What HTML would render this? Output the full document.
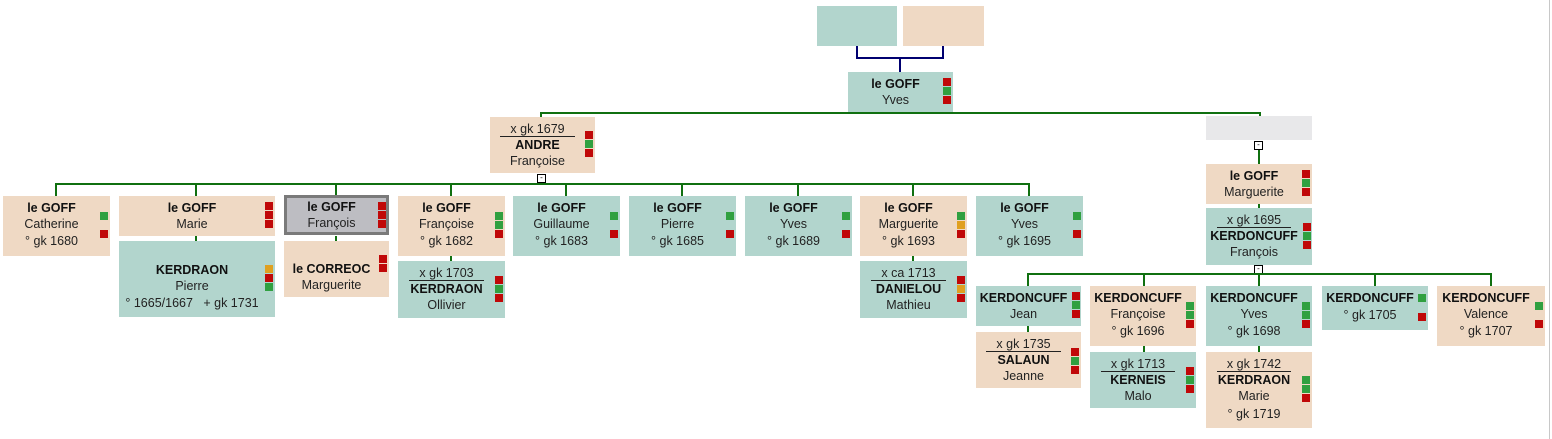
<!DOCTYPE html>
<html><head><meta charset="utf-8"><style>
body{margin:0;width:1552px;height:439px;background:#fff;position:relative;overflow:hidden;font-family:"Liberation Sans",Arial,sans-serif}
.b{position:absolute;font-size:12.5px;text-align:center;line-height:16px;box-sizing:border-box;padding:4px 10px 0 0;color:#222;white-space:nowrap}
.t{background:#b2d5cd}.a{background:#efd9c4}
.b b{font-weight:bold;color:#111}
.s{position:absolute;width:8px;height:8px;right:2px}
.r{background:#c00808}.g{background:#30a040}.y{background:#e0a020}
.m{display:inline-block;border-bottom:1px solid #222;line-height:13px;padding:0 10px}
.l{position:absolute;background:#107010}
.n{position:absolute;background:#000070}
.x{position:absolute;width:7px;height:7px;border:1px solid #000;background:#fff;font-size:8px;line-height:6px;text-align:center}
.d{line-height:19px}
</style></head><body>
<div class="b t" style="left:817px;top:6px;width:80px;height:40px"></div>
<div class="b a" style="left:903px;top:6px;width:81px;height:40px"></div>
<div class="n" style="left:856px;top:46px;width:2px;height:13px"></div>
<div class="n" style="left:942px;top:46px;width:2px;height:13px"></div>
<div class="n" style="left:856px;top:57px;width:88px;height:2px"></div>
<div class="n" style="left:899px;top:57px;width:2px;height:15px"></div>

<div class="b t" style="left:848px;top:72px;width:105px;height:40px"><b>le GOFF</b><br>Yves<div class="s r" style="top:6px"></div><div class="s g" style="top:15px"></div><div class="s r" style="top:24px"></div></div>

<div class="l" style="left:540px;top:112px;width:721px;height:2px"></div>
<div class="l" style="left:540px;top:112px;width:2px;height:5px"></div>

<div class="b a" style="left:490px;top:117px;width:105px;height:56px"><span class="m">x gk 1679</span><br><b>ANDRE</b><br>Françoise<div class="s r" style="top:14px"></div><div class="s g" style="top:23px"></div><div class="s r" style="top:32px"></div></div>
<div class="x" style="left:537px;top:174px">-</div>

<div class="l" style="left:55px;top:183px;width:975px;height:2px"></div>
<div class="l" style="left:55px;top:183px;width:2px;height:13px"></div>
<div class="l" style="left:195px;top:183px;width:2px;height:13px"></div>
<div class="l" style="left:335px;top:183px;width:2px;height:13px"></div>
<div class="l" style="left:450px;top:183px;width:2px;height:13px"></div>
<div class="l" style="left:565px;top:183px;width:2px;height:13px"></div>
<div class="l" style="left:681px;top:183px;width:2px;height:13px"></div>
<div class="l" style="left:797px;top:183px;width:2px;height:13px"></div>
<div class="l" style="left:912px;top:183px;width:2px;height:13px"></div>
<div class="l" style="left:1028px;top:183px;width:2px;height:13px"></div>

<div class="b a" style="left:3px;top:196px;width:107px;height:60px"><b>le GOFF</b><br>Catherine<br><span class="d">° gk 1680</span><div class="s g" style="top:16px"></div><div class="s r" style="top:34px"></div></div>
<div class="b a" style="left:119px;top:196px;width:156px;height:40px"><b>le GOFF</b><br>Marie<div class="s r" style="top:6px"></div><div class="s r" style="top:15px"></div><div class="s r" style="top:24px"></div></div>
<div class="b" style="left:284px;top:195px;width:105px;height:40px;background:#bdbdc2;border:3px solid #7a7a7a;padding-top:1px"><b>le GOFF</b><br>François<div class="s r" style="top:4px;right:0"></div><div class="s r" style="top:13px;right:0"></div><div class="s r" style="top:22px;right:0"></div></div>
<div class="b a" style="left:398px;top:196px;width:107px;height:60px"><b>le GOFF</b><br>Françoise<br><span class="d">° gk 1682</span><div class="s g" style="top:16px"></div><div class="s g" style="top:25px"></div><div class="s r" style="top:34px"></div></div>
<div class="b t" style="left:513px;top:196px;width:107px;height:60px"><b>le GOFF</b><br>Guillaume<br><span class="d">° gk 1683</span><div class="s g" style="top:16px"></div><div class="s r" style="top:34px"></div></div>
<div class="b t" style="left:629px;top:196px;width:107px;height:60px"><b>le GOFF</b><br>Pierre<br><span class="d">° gk 1685</span><div class="s g" style="top:16px"></div><div class="s r" style="top:34px"></div></div>
<div class="b t" style="left:745px;top:196px;width:107px;height:60px"><b>le GOFF</b><br>Yves<br><span class="d">° gk 1689</span><div class="s g" style="top:16px"></div><div class="s r" style="top:34px"></div></div>
<div class="b a" style="left:860px;top:196px;width:107px;height:60px"><b>le GOFF</b><br>Marguerite<br><span class="d">° gk 1693</span><div class="s g" style="top:16px"></div><div class="s y" style="top:25px"></div><div class="s r" style="top:34px"></div></div>
<div class="b t" style="left:976px;top:196px;width:107px;height:60px"><b>le GOFF</b><br>Yves<br><span class="d">° gk 1695</span><div class="s g" style="top:16px"></div><div class="s r" style="top:34px"></div></div>

<div class="l" style="left:195px;top:236px;width:2px;height:5px"></div>
<div class="l" style="left:335px;top:236px;width:2px;height:5px"></div>
<div class="l" style="left:450px;top:256px;width:2px;height:5px"></div>
<div class="l" style="left:912px;top:256px;width:2px;height:5px"></div>

<div class="b t" style="left:119px;top:241px;width:156px;height:76px;padding-top:21px"><b>KERDRAON</b><br>Pierre<br><span class="d">° 1665/1667 &nbsp;&nbsp;+ gk 1731</span><div class="s y" style="top:24px"></div><div class="s r" style="top:33px"></div><div class="s g" style="top:42px"></div></div>
<div class="b a" style="left:284px;top:241px;width:105px;height:56px;padding-top:20px"><b>le CORREOC</b><br>Marguerite<div class="s r" style="top:14px"></div><div class="s r" style="top:23px"></div></div>
<div class="b t" style="left:398px;top:261px;width:107px;height:57px"><span class="m">x gk 1703</span><br><b>KERDRAON</b><br>Ollivier<div class="s r" style="top:15px"></div><div class="s g" style="top:24px"></div><div class="s r" style="top:33px"></div></div>
<div class="b t" style="left:860px;top:261px;width:107px;height:57px"><span class="m">x ca 1713</span><br><b>DANIELOU</b><br>Mathieu<div class="s r" style="top:15px"></div><div class="s y" style="top:24px"></div><div class="s r" style="top:33px"></div></div>

<div class="l" style="left:1259px;top:112px;width:2px;height:5px"></div>
<div class="b" style="left:1206px;top:116px;width:106px;height:24px;background:#e8e8ea"></div>
<div class="x" style="left:1254px;top:141px">-</div>
<div class="l" style="left:1258px;top:150px;width:2px;height:14px"></div>
<div class="b a" style="left:1206px;top:164px;width:106px;height:40px"><b>le GOFF</b><br>Marguerite<div class="s r" style="top:6px"></div><div class="s g" style="top:15px"></div><div class="s r" style="top:24px"></div></div>
<div class="l" style="left:1258px;top:204px;width:2px;height:4px"></div>
<div class="b t" style="left:1206px;top:208px;width:106px;height:57px"><span class="m">x gk 1695</span><br><b>KERDONCUFF</b><br>François<div class="s r" style="top:15px;right:1px"></div><div class="s g" style="top:24px;right:1px"></div><div class="s r" style="top:33px;right:1px"></div></div>
<div class="x" style="left:1254px;top:265px">-</div>

<div class="l" style="left:1027px;top:273px;width:465px;height:2px"></div>
<div class="l" style="left:1027px;top:273px;width:2px;height:13px"></div>
<div class="l" style="left:1143px;top:273px;width:2px;height:13px"></div>
<div class="l" style="left:1258px;top:273px;width:2px;height:13px"></div>
<div class="l" style="left:1374px;top:273px;width:2px;height:13px"></div>
<div class="l" style="left:1490px;top:273px;width:2px;height:13px"></div>

<div class="b t" style="left:976px;top:286px;width:105px;height:40px"><b>KERDONCUFF</b><br>Jean<div class="s r" style="top:6px;right:1px"></div><div class="s g" style="top:15px;right:1px"></div><div class="s r" style="top:24px;right:1px"></div></div>
<div class="b a" style="left:1090px;top:286px;width:106px;height:60px"><b>KERDONCUFF</b><br>Françoise<br><span class="d">° gk 1696</span><div class="s g" style="top:16px"></div><div class="s g" style="top:25px"></div><div class="s r" style="top:34px"></div></div>
<div class="b t" style="left:1206px;top:286px;width:106px;height:60px"><b>KERDONCUFF</b><br>Yves<br><span class="d">° gk 1698</span><div class="s g" style="top:16px"></div><div class="s g" style="top:25px"></div><div class="s r" style="top:34px"></div></div>
<div class="b t" style="left:1322px;top:286px;width:106px;height:44px"><b>KERDONCUFF</b><br><span class="d">° gk 1705</span><div class="s g" style="top:8px"></div><div class="s r" style="top:27px"></div></div>
<div class="b a" style="left:1437px;top:286px;width:108px;height:60px"><b>KERDONCUFF</b><br>Valence<br><span class="d">° gk 1707</span><div class="s g" style="top:16px"></div><div class="s r" style="top:34px"></div></div>

<div class="l" style="left:1027px;top:326px;width:2px;height:6px"></div>
<div class="l" style="left:1143px;top:346px;width:2px;height:6px"></div>
<div class="l" style="left:1258px;top:346px;width:2px;height:6px"></div>

<div class="b a" style="left:976px;top:332px;width:105px;height:56px"><span class="m">x gk 1735</span><br><b>SALAUN</b><br>Jeanne<div class="s r" style="top:16px"></div><div class="s g" style="top:25px"></div><div class="s r" style="top:34px"></div></div>
<div class="b t" style="left:1090px;top:352px;width:106px;height:56px"><span class="m">x gk 1713</span><br><b>KERNEIS</b><br>Malo<div class="s r" style="top:15px"></div><div class="s g" style="top:24px"></div><div class="s r" style="top:33px"></div></div>
<div class="b a" style="left:1206px;top:352px;width:106px;height:76px"><span class="m">x gk 1742</span><br><b>KERDRAON</b><br>Marie<br><span style="line-height:20px">° gk 1719</span><div class="s g" style="top:24px"></div><div class="s g" style="top:33px"></div><div class="s r" style="top:42px"></div></div>

<div style="position:absolute;left:1549px;top:0;width:1px;height:439px;background:#c8c8c8"></div>
</body></html>
